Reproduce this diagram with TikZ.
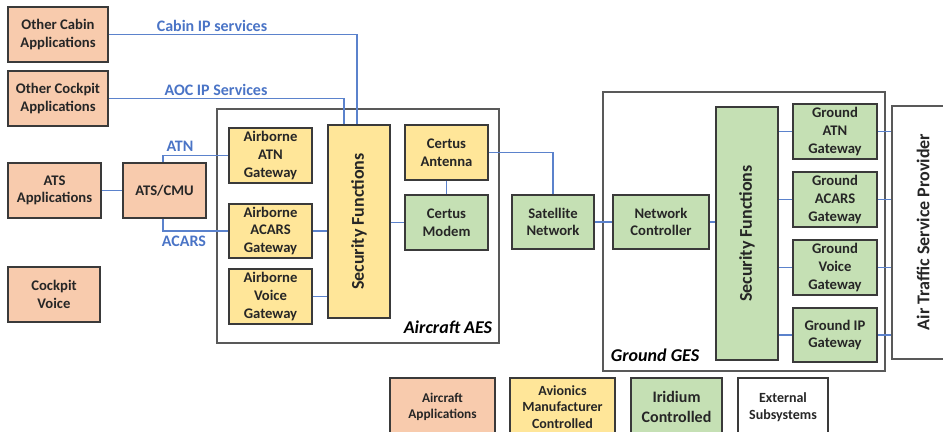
\documentclass[tikz,border=0pt]{standalone}
\usepackage{fontspec}
\setmainfont{Carlito}
\usetikzlibrary{calc}
\definecolor{appor}{HTML}{F8CBAD}
\definecolor{avyel}{HTML}{FFE699}
\definecolor{irgrn}{HTML}{C5E0B4}
\definecolor{lnblue}{HTML}{5B82CC}
\definecolor{txblue}{HTML}{4A74C6}
\definecolor{bord}{HTML}{3A3A3A}
\newcommand{\bx}[7]{%
  \node[#1, minimum width={(#5-#3)*0.75pt}, minimum height={(#6-#4)*0.75pt}] (#2) at ({(#3+#5)/2},{(#4+#6)/2}) {#7};}
\tikzset{
  base/.style={draw=bord, line width=1.2pt, align=center, inner sep=1pt,
    font=\fontsize{11}{13.2}\selectfont\bfseries, text=black!85},
  orbox/.style={base, fill=appor},
  yebox/.style={base, fill=avyel},
  grbox/.style={base, fill=irgrn},
  whbox/.style={base, fill=white},
  legtxt/.style={font=\fontsize{10}{12}\selectfont\bfseries},
  frame/.style={draw=black!65, line width=0.9pt, fill=white},
  link/.style={draw=lnblue, line width=1.1pt},
  lbl/.style={text=txblue, font=\fontsize{12}{14}\selectfont\bfseries, inner sep=1pt},
  rot/.style={rotate=90, font=\fontsize{13.5}{15}\selectfont\bfseries, text=black!85},
  ital/.style={font=\fontsize{13.5}{15}\selectfont\bfseries\itshape, inner sep=2pt}
}
\begin{document}
\begin{tikzpicture}[x=0.75pt,y=-0.75pt]
\useasboundingbox (0,0) rectangle (943,432);
% frames
\bx{frame}{aes}{217}{109}{499}{343}{}
\bx{frame}{ges}{603}{92}{885}{371}{}
\bx{frame}{atsp}{892}{106}{965}{359}{}
\node[ital, anchor=south east] (aeslbl) at (495,337) {Aircraft AES};
\node[ital, anchor=south west] (geslbl) at (608,365) {Ground GES};
\node[rot] (atsptxt) at (923,232) {Air Traffic Service Provider};
% aircraft applications
\bx{orbox}{oca}{8}{7}{108}{62}{Other Cabin\\Applications}
\bx{orbox}{ocp}{8}{71}{108}{126}{Other Cockpit\\Applications}
\bx{orbox}{ats}{8}{163}{101}{218}{ATS\\Applications}
\bx{orbox}{cmu}{123}{163}{206}{218}{ATS/CMU}
\bx{orbox}{cv}{8}{267}{100}{322}{Cockpit\\Voice}
% airborne
\bx{yebox}{agw}{229}{128}{312}{183}{Airborne\\ATN\\Gateway}
\bx{yebox}{acgw}{229}{204}{312}{258}{Airborne\\ACARS\\Gateway}
\bx{yebox}{avgw}{229}{269}{312}{324}{Airborne\\Voice\\Gateway}
\bx{yebox}{sfa}{328}{125}{390}{318}{}
\node[rot] (sfatxt) at (sfa.center) {Security Functions};
\bx{yebox}{ant}{405}{125}{488}{180}{Certus\\Antenna}
\bx{grbox}{mod}{405}{195}{488}{250}{Certus\\Modem}
% ground
\bx{grbox}{sat}{512}{195}{594}{249}{Satellite\\Network}
\bx{grbox}{nc}{613}{195}{709}{249}{Network\\Controller}
\bx{grbox}{sfg}{716}{107}{778}{360}{}
\node[rot] (sfgtxt) at (sfg.center) {Security Functions};
\bx{grbox}{gatn}{793}{104}{877}{159}{Ground\\ATN\\Gateway}
\bx{grbox}{gacars}{793}{172}{877}{227}{Ground\\ACARS\\Gateway}
\bx{grbox}{gvoice}{793}{240}{877}{295}{Ground\\Voice\\Gateway}
\bx{grbox}{gip}{793}{308}{877}{362}{Ground IP\\Gateway}
% legend
\bx{orbox,legtxt}{l1}{390}{378}{495}{436}{Aircraft\\Applications}
\bx{yebox,font=\fontsize{10.5}{12.2}\selectfont\bfseries}{l2}{510}{378}{615}{436}{Avionics\\Manufacturer\\Controlled}
\bx{grbox,font=\fontsize{12}{14.5}\selectfont\bfseries}{l3}{631}{378}{722}{436}{Iridium\\Controlled}
\bx{whbox,font=\fontsize{10.5}{12.5}\selectfont\bfseries}{l4}{738}{378}{828}{436}{External\\Subsystems}
% links
\draw[link] (oca.east) -| ($(sfa.north west)+(30,0)$);
\draw[link] (ocp.east) -| ($(sfa.north west)+(17,0)$);
\node[lbl] (cablbl) at (212,26) {Cabin IP services};
\node[lbl] (aoclbl) at (216,90) {AOC IP Services};
\draw[link] (ats.east) -- (cmu.west);
\draw[link] ($(cmu.north west)+(41,0)$) |- (agw.west);
\draw[link] ($(cmu.south west)+(41,0)$) |- (acgw.west);
\node[lbl] (atnlbl) at (180,146) {ATN};
\node[lbl] (acarslbl) at (184,241) {ACARS};
\draw[link] (acgw.east) -- (acgw.east -| sfa.west);
\draw[link] (avgw.east) -- (avgw.east -| sfa.west);
\draw[link] (mod.west -| sfa.east) -- (mod.west);
\draw[link] (ant.south) -- (mod.north);
\draw[link] (ant.east) -| (sat.north);
\draw[link] (sat.east) -- (nc.west);
\draw[link] (nc.east) -- (nc.east -| sfg.west);
\foreach \g in {gatn,gacars,gvoice,gip}{
  \draw[link] (\g.west -| sfg.east) -- (\g.west);
  \draw[link] (\g.east) -- (\g.east -| atsp.west);
}
\end{tikzpicture}
\end{document}
